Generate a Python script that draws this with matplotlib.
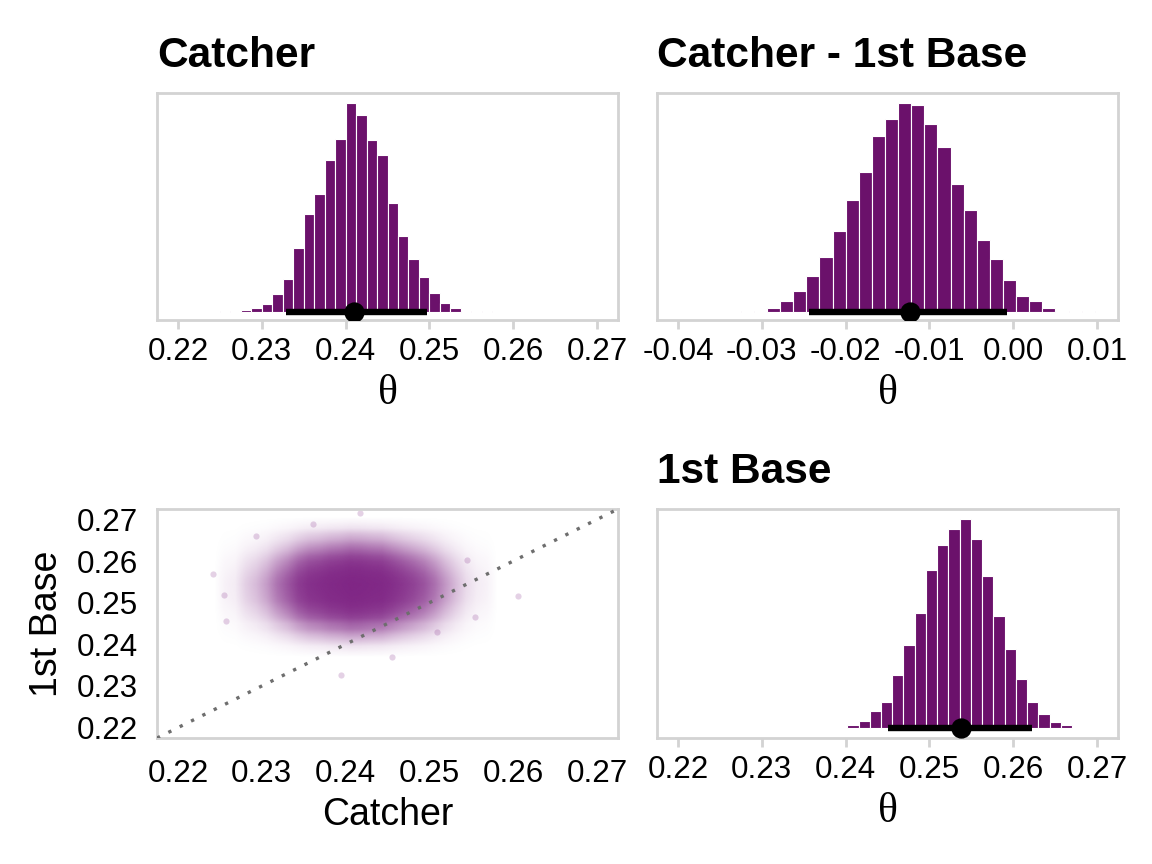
import numpy as np
import matplotlib
matplotlib.use("Agg")
import matplotlib.pyplot as plt
from matplotlib.colors import to_rgb

plt.rcParams['font.family'] = ['Liberation Sans', 'DejaVu Sans']

# ---------------- data ----------------
catcher_start = 0.225
catcher_width = 0.00125
catcher_heights = [0.5, 1, 5, 10, 22, 53, 97, 190, 292, 353, 457, 520, 628,
                   592, 516, 470, 326, 227, 159, 104, 57, 25, 10, 3, 1, 0.5]
catcher_hdi = [0.2329, 0.2497]
catcher_point = 0.2410

diff_start = -0.0325
diff_width = 0.001564
diff_heights = [0.5, 2, 10, 31, 61, 107, 163, 241, 335, 419, 527, 578, 628,
                622, 565, 495, 383, 304, 214, 159, 95, 47, 31, 10, 3, 2, 0.5]
diff_hdi = [-0.0244, -0.0008]
diff_point = -0.0123

first_start = 0.23752
first_width = 0.001341
first_heights = [0.5, 2, 9, 22, 52, 80, 161, 249, 347, 475, 549, 599, 629, 569,
                 458, 336, 239, 148, 79, 42, 19, 9, 2, 0.5]
first_hdi = [0.2450, 0.2622]
first_point = 0.2538

# sparse outlying samples visible in the scatter
outlier_x = [0.22422, 0.22549, 0.22573, 0.22931, 0.23942, 0.24172, 0.26061,
             0.25544, 0.25445, 0.23615, 0.25087, 0.24550]
outlier_y = [0.25689, 0.25184, 0.24567, 0.26601, 0.23263, 0.27146, 0.25168,
             0.24663, 0.26025, 0.26889, 0.24303, 0.23702]

theta_ticks = [0.22, 0.23, 0.24, 0.25, 0.26, 0.27]
theta_labels = ['0.22', '0.23', '0.24', '0.25', '0.26', '0.27']
diff_ticks = [-0.04, -0.03, -0.02, -0.01, 0.00, 0.01]
diff_labels = ['-0.04', '-0.03', '-0.02', '-0.01', '0.00', '0.01']

titles = ['Catcher', 'Catcher - 1st Base', '1st Base']
# ----------------------------------------------------------------

BAR = '#6b116b'
PT = '#7a1c80'
GRID = '#d3d3d3'

fig = plt.figure(figsize=(5.76, 4.32), dpi=200)
ax_tl = fig.add_axes([0.1363, 0.6296, 0.4002, 0.2628])
ax_tr = fig.add_axes([0.5703, 0.6296, 0.4002, 0.2628])
ax_bl = fig.add_axes([0.1363, 0.1458, 0.4002, 0.2651])
ax_br = fig.add_axes([0.5703, 0.1458, 0.4002, 0.2651])

for ax in (ax_tl, ax_tr, ax_bl, ax_br):
    for s in ax.spines.values():
        s.set_color(GRID)
        s.set_linewidth(1.0)


def hist_panel(ax, start, width, heights, hdi, point, ticks, labels, title, ylim):
    h = np.asarray(heights, dtype=float)
    h = h / h.max()
    lefts = start + width * np.arange(len(h))
    ax.bar(lefts, h, width=width, align='edge', color=BAR,
           edgecolor='white', linewidth=0.4, zorder=2)
    ax.plot(hdi, [0, 0], color='black', lw=2.3, solid_capstyle='butt', zorder=3)
    ax.plot([point], [0], 'o', color='black', ms=6.3, zorder=4)
    ax.set_ylim(*ylim)
    ax.set_yticks([])
    ax.set_xticks(ticks)
    ax.set_xticklabels(labels)
    ax.tick_params(axis='x', length=3.2, width=1.0, color=GRID, pad=3.0,
                   labelsize=11.3)
    ax.set_xlabel('θ', family=['Liberation Serif', 'DejaVu Serif'],
                  fontsize=15, labelpad=2.5)
    ax.set_title(title, loc='left', fontsize=15.3, fontweight='bold', pad=9.5)


hist_panel(ax_tl, catcher_start, catcher_width, catcher_heights, catcher_hdi,
           catcher_point, theta_ticks, theta_labels, titles[0], (-0.04, 1.046))
ax_tl.set_xlim(0.2175, 0.2725)

hist_panel(ax_tr, diff_start, diff_width, diff_heights, diff_hdi,
           diff_point, diff_ticks, diff_labels, titles[1], (-0.04, 1.046))
ax_tr.set_xlim(-0.0425, 0.0125)

hist_panel(ax_br, first_start, first_width, first_heights, first_hdi,
           first_point, theta_ticks, theta_labels, titles[2], (-0.046, 1.047))
ax_br.set_xlim(0.2175, 0.2725)

# ---- joint scatter panel: density built from the two marginal histograms ----
cx = np.asarray(catcher_heights, float); cx /= cx.max()
cy = np.asarray(first_heights, float); cy /= cy.max()
cx = np.pad(cx, 1)
cy = np.pad(cy, 1)
dens = np.outer(cy, cx)
alpha = 0.97 * (1.0 - np.exp(-4.5 * dens ** 0.6))
rgba = np.zeros(dens.shape + (4,))
rgba[..., :3] = to_rgb(PT)
rgba[..., 3] = alpha
x0 = catcher_start - catcher_width
x1 = catcher_start + catcher_width * (len(cx) - 1)
y0 = first_start - first_width
y1 = first_start + first_width * (len(cy) - 1)
ax_bl.imshow(rgba, extent=[x0, x1, y0, y1], origin='lower', aspect='auto',
             interpolation='bilinear', zorder=1)
ax_bl.scatter(outlier_x, outlier_y, s=5, color=PT, alpha=0.2,
              linewidths=0, zorder=2)
lims = [0.2175, 0.2725]
ax_bl.plot(lims, lims, color='#6e6e6e', lw=1.2, linestyle=(0, (1, 2.8)),
           zorder=3)
ax_bl.set_xlim(*lims)
ax_bl.set_ylim(*lims)
ax_bl.set_xticks(theta_ticks)
ax_bl.set_xticklabels(theta_labels)
ax_bl.set_yticks(theta_ticks)
ax_bl.set_yticklabels(theta_labels)
ax_bl.tick_params(axis='x', length=0, pad=7.5, labelsize=11.3)
ax_bl.tick_params(axis='y', length=0, pad=7, labelsize=11.3)
ax_bl.set_xlabel('Catcher', fontsize=13.5, labelpad=3)
ax_bl.set_ylabel('1st Base', fontsize=13.5, labelpad=4)

fig.savefig('out.png', dpi=200, facecolor='white')
